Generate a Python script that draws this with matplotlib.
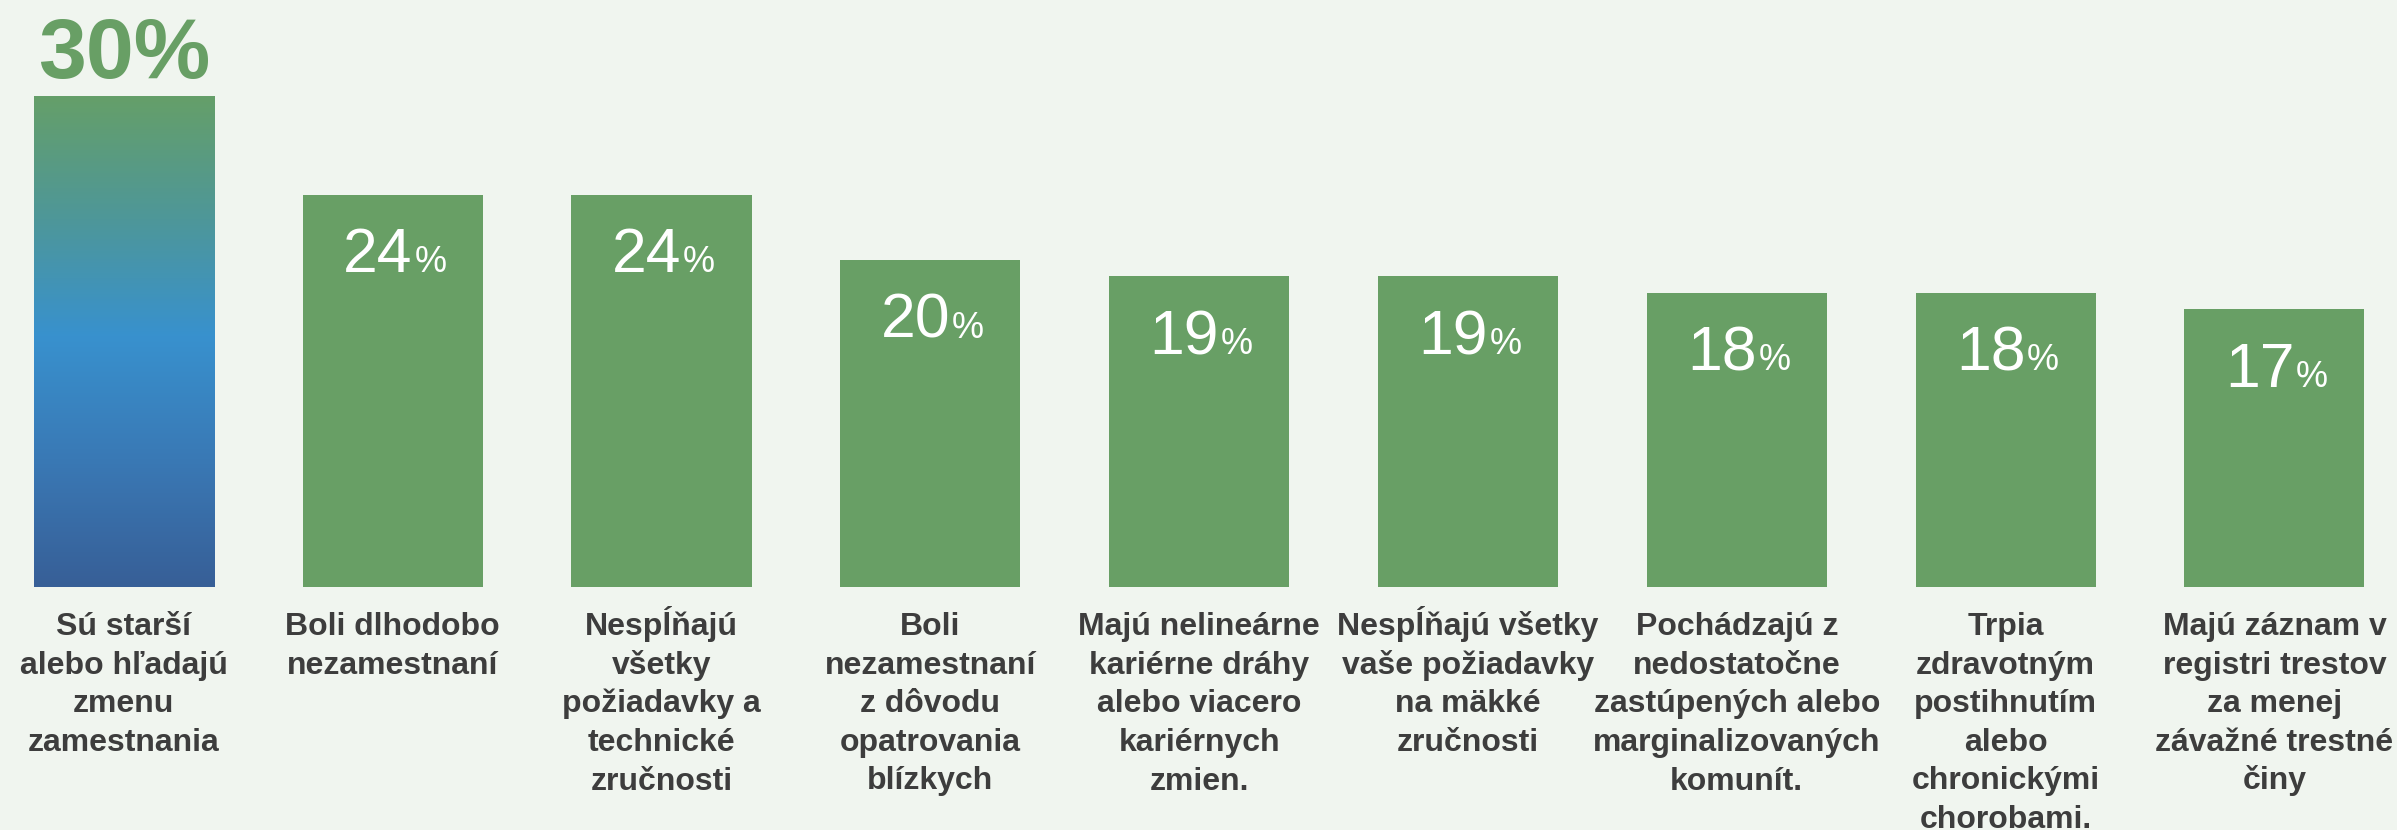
import matplotlib.pyplot as plt
import matplotlib.colors as mcolors
import numpy as np

plt.rcParams['font.family'] = ['Liberation Sans', 'DejaVu Sans']

# Dados do gráfico
categorias = [
    "Sú starší\nalebo hľadajú\nzmenu\nzamestnania",
    "Boli dlhodobo\nnezamestnaní",
    "Nespĺňajú\nvšetky\npožiadavky a\ntechnické\nzručnosti",
    "Boli\nnezamestnaní\nz dôvodu\nopatrovania\nblízkych",
    "Majú nelineárne\nkariérne dráhy\nalebo viacero\nkariérnych\nzmien.",
    "Nespĺňajú všetky\nvaše požiadavky\nna mäkké\nzručnosti",
    "Pochádzajú z\nnedostatočne\nzastúpených alebo\nmarginalizovaných\nkomunít.",
    "Trpia\nzdravotným\npostihnutím\nalebo\nchronickými\nchorobami.",
    "Majú záznam v\nregistri trestov\nza menej\nzávažné trestné\nčiny",
]
valores = [30, 24, 24, 20, 19, 19, 18, 18, 17]

FUNDO = '#f0f5ef'
VERDE = '#689f65'
CINZA = '#3d3d3d'
GRADIENTE = ['#659f69', '#4e9799', '#3891ce', '#3a78b4', '#375f97']

fig = plt.figure(figsize=(23.97, 8.30), dpi=100, facecolor=FUNDO)
ax = fig.add_axes([0, 1 - 587 / 830, 1, 587 / 830])
ax.set_facecolor(FUNDO)

x = np.arange(len(valores))
barras = ax.bar(x, valores, width=0.67, color=VERDE, zorder=2)

# primeira barra com degradê verde -> azul
cmap = mcolors.LinearSegmentedColormap.from_list(
    'verde_azul', list(zip([0, 0.25, 0.49, 0.75, 1.0], GRADIENTE)))
b0 = barras[0]
img = ax.imshow(np.linspace(0, 1, 256).reshape(-1, 1), cmap=cmap,
                aspect='auto', zorder=3,
                extent=(b0.get_x(), b0.get_x() + b0.get_width(),
                        0, b0.get_height()))
img.set_clip_path(b0)

ax.set_xlim(-0.461, 8.456)
ax.set_ylim(0, 587 / 16.35)
ax.axis('off')

# destaque do maior valor
ax.annotate(f"{valores[0]}%", xy=(x[0], valores[0]), xytext=(0, 13),
            textcoords='offset points', ha='center', va='baseline',
            fontsize=62, fontweight='bold', color=VERDE, zorder=4)

# rótulos brancos dentro das demais barras
for xi, v in zip(x[1:], valores[1:]):
    ax.annotate(f"{v}", xy=(xi, v), xytext=(14.4, -56),
                textcoords='offset points', ha='right', va='baseline',
                fontsize=45, color='white', zorder=4)
    ax.annotate("%", xy=(xi, v), xytext=(15.5, -56),
                textcoords='offset points', ha='left', va='baseline',
                fontsize=26, color='white', zorder=4)

# categorias abaixo das barras, linha a linha para manter o espaçamento fixo
BASE_PT = 34.6
PASSO_PT = 27.8
for xi, cat in zip(x, categorias):
    for k, linha in enumerate(cat.split("\n")):
        ax.annotate(linha, xy=(xi, 0), xytext=(0, -(BASE_PT + k * PASSO_PT)),
                    textcoords='offset points', ha='center', va='baseline',
                    fontsize=23, fontweight='bold', color=CINZA,
                    annotation_clip=False)

fig.savefig('out.png', dpi=100, facecolor=FUNDO)
